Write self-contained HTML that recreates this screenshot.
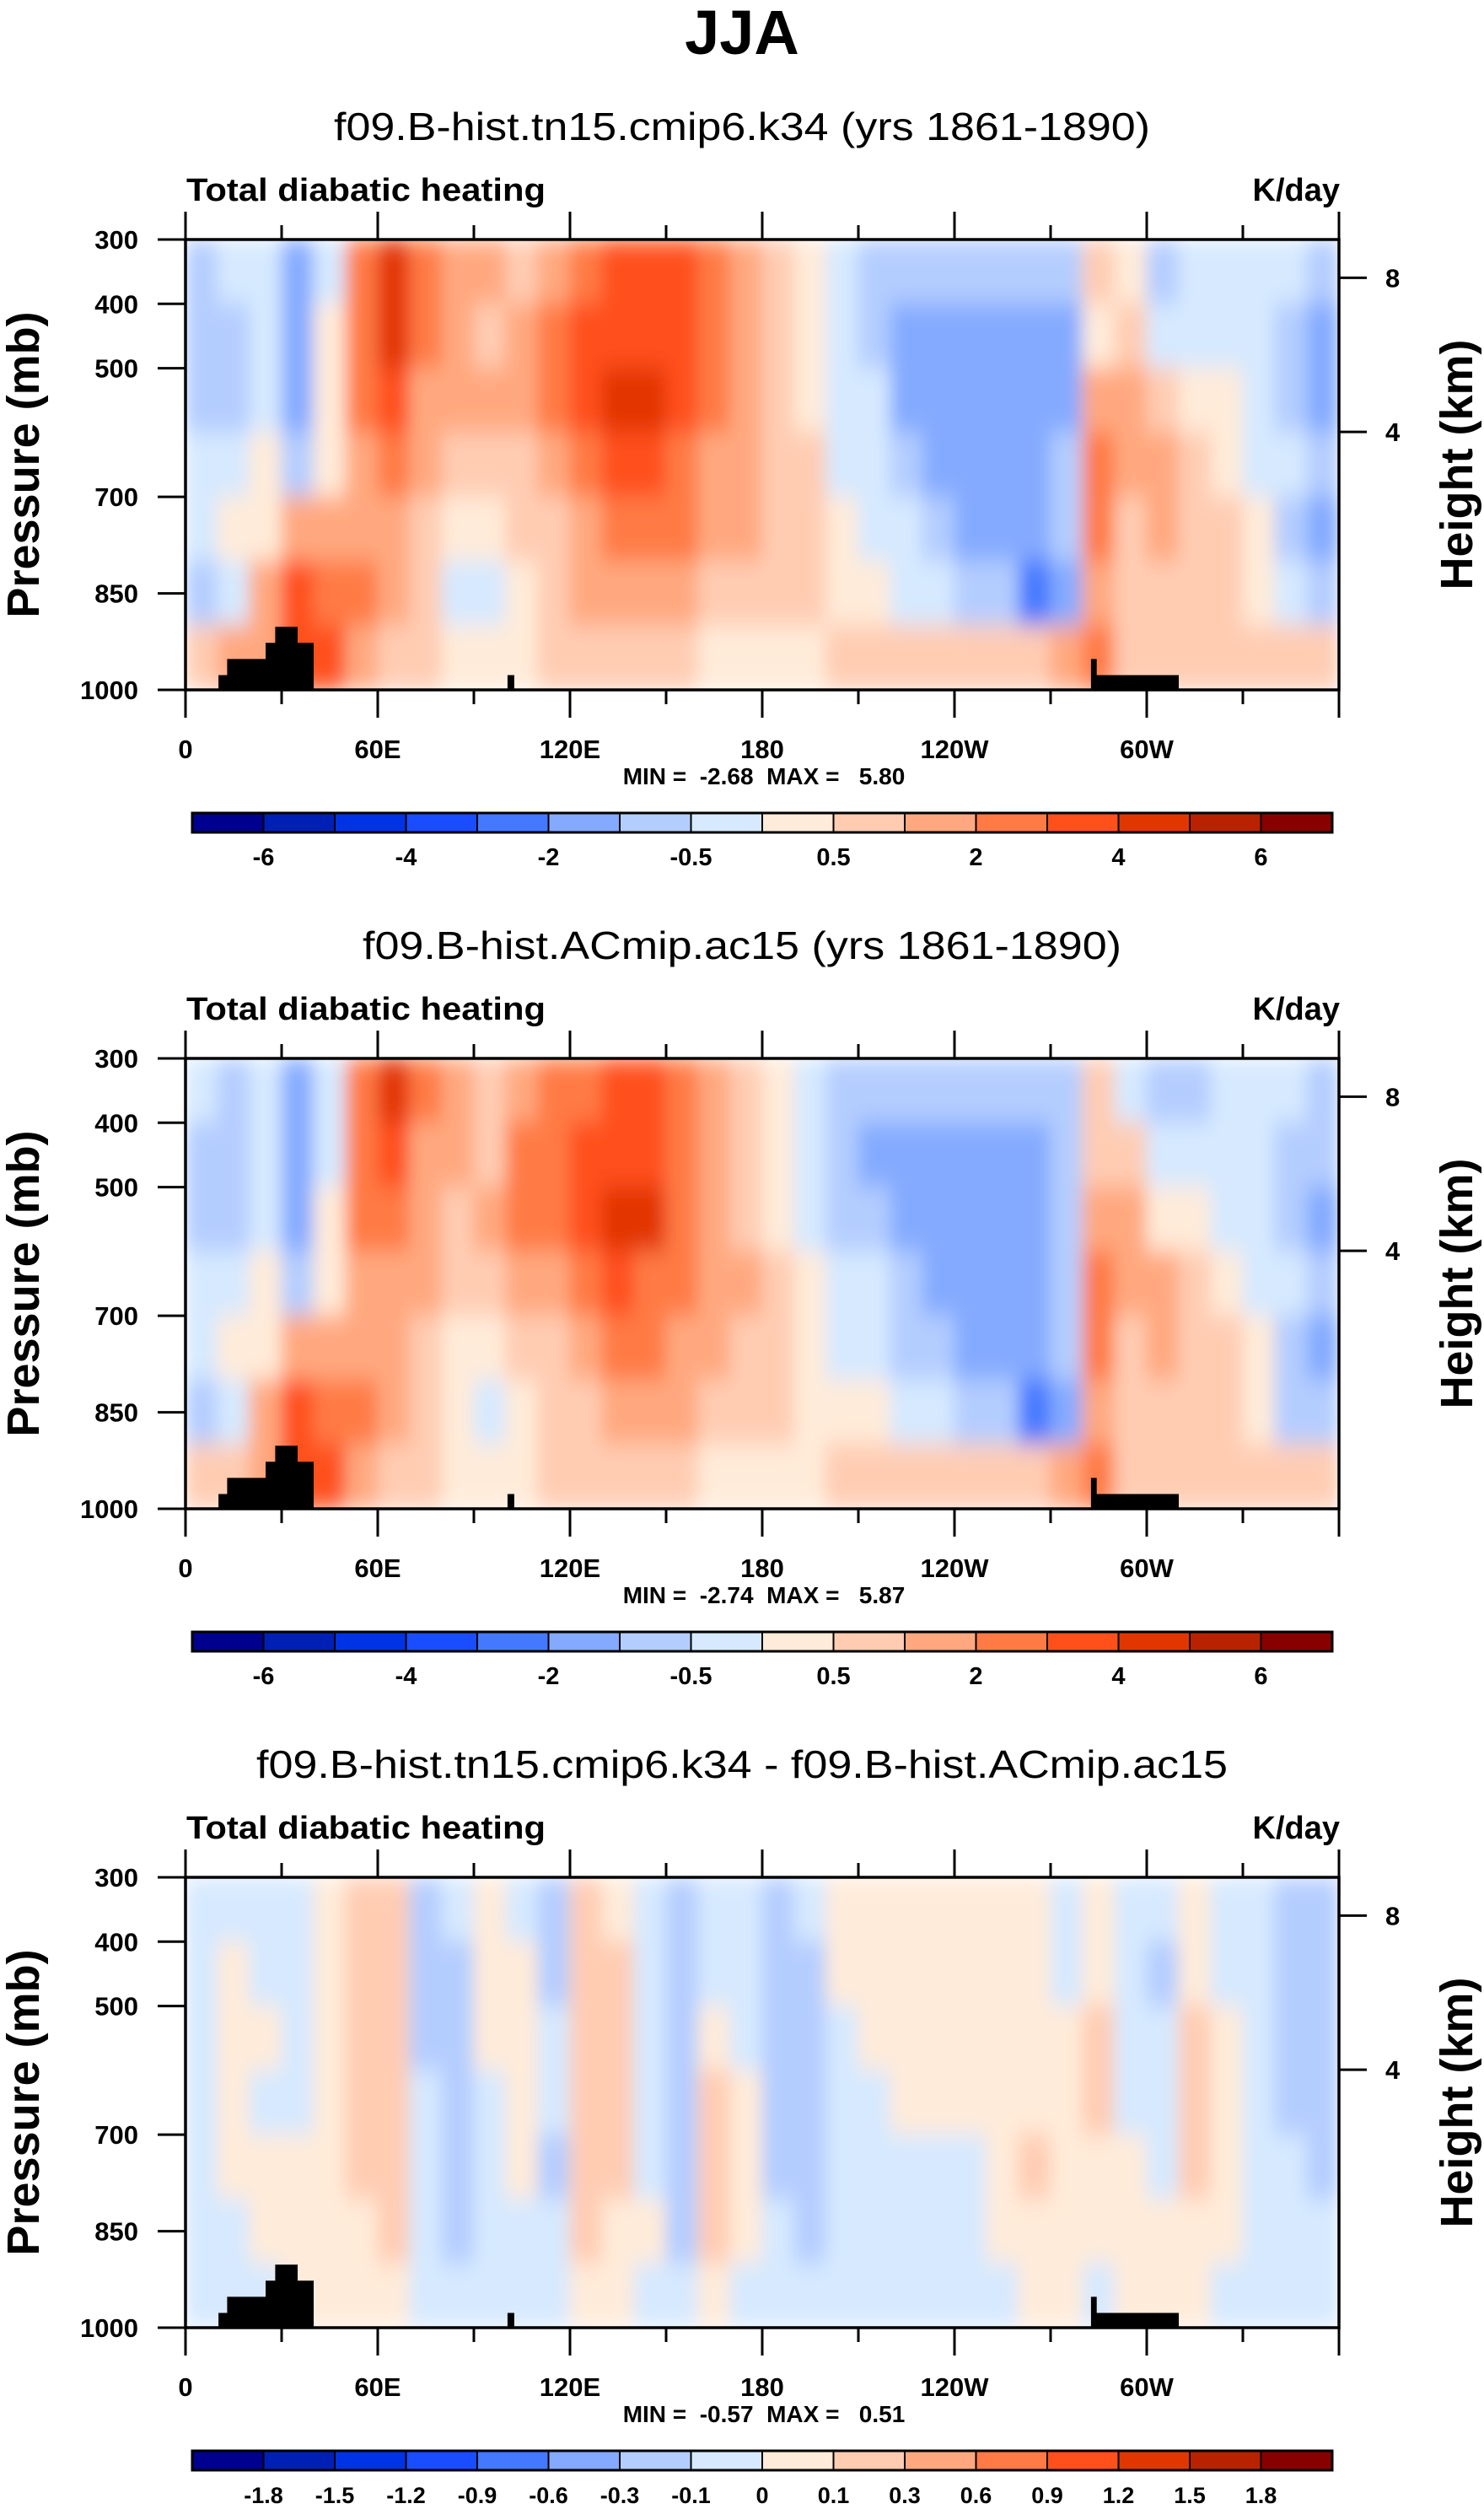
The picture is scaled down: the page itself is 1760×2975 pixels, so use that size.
<!DOCTYPE html>
<html><head><meta charset="utf-8">
<style>
html,body{margin:0;padding:0;background:#fff;}
svg{display:block;font-family:"Liberation Sans",Arial,sans-serif;}
.pre{white-space:pre;}
</style></head>
<body>
<svg id="root" width="1760" height="2975" viewBox="0 0 1760 2975" xmlns="http://www.w3.org/2000/svg">
<defs>
<filter id="blur" filterUnits="userSpaceOnUse" x="220" y="284" width="1368" height="534">
<feGaussianBlur stdDeviation="10 14" edgeMode="duplicate"/>
</filter>
<clipPath id="clip"><rect x="220" y="284" width="1368" height="534"/></clipPath>
</defs>
<text x="880" y="64" text-anchor="middle" font-size="74" font-weight="bold">JJA</text>
</svg>
<script>
// ---- data ----
const colors = ["#00008e","#0020b5","#0033e5","#1a4dff","#4479ff","#84aaff","#b4cdff","#d6e9ff","#ffebd9","#ffccb2","#ffa87f","#ff7a45","#ff501b","#e23600","#b82200","#880000"];
const lonEdges = [0,10,20,30,40,50,60,70,80,90,100,110,120,130,140,150,160,170,180,190,200,210,220,230,240,250,260,270,280,290,300,310,320,330,340,350,360];
const presEdges = [300,400,500,600,700,800,900,1000];
const xTickLabels = ["0","60E","120E","180","120W","60W"];
const xTickLons = [0,60,120,180,240,300];
const yTickVals = [300,400,500,700,850,1000];
const htTickLabels = ["8","4"];
const htTickPres = [359.5,599];
const cbLabels1 = ["-6","-4","-2","-0.5","0.5","2","4","6"];
const cbLabelIdx1 = [1,3,5,7,9,11,13,15];
const cbLabels3 = ["-1.8","-1.5","-1.2","-0.9","-0.6","-0.3","-0.1","0","0.1","0.3","0.6","0.9","1.2","1.5","1.8"];
const cbLabelIdx3 = [1,2,3,4,5,6,7,8,9,10,11,12,13,14,15];
const titles = ["f09.B-hist.tn15.cmip6.k34 (yrs 1861-1890)","f09.B-hist.ACmip.ac15 (yrs 1861-1890)","f09.B-hist.tn15.cmip6.k34 - f09.B-hist.ACmip.ac15"];
const titleWidths = [968,900,1152];
const minmax = ["MIN =  -2.68  MAX =   5.80","MIN =  -2.74  MAX =   5.87","MIN =  -0.57  MAX =   0.51"];
// land polygons: [lon, pressure]
const land1 = [[10.3,1000],[10.3,977],[13,977],[13,952],[25,952],[25,927],[28,927],[28,902],[35,902],[35,927],[40,927],[40,1000]];
const land2 = [[100.5,1000],[100.5,977],[102.6,977],[102.6,1000]];
const land3 = [[282.6,1000],[282.6,952],[284.4,952],[284.4,977],[310,977],[310,1000]];
const field1 = [
[6,6,6,7,7,6,9],[7,6,6,7,8,7,10],[7,7,7,8,8,10,10],[5,5,5,6,10,12,12],[7,8,8,8,10,11,12],
[11,11,11,10,10,11,10],[13,13,12,11,10,10,9],[11,11,10,10,9,9,9],[10,10,10,9,8,7,8],[10,9,10,9,8,7,8],
[9,10,10,9,9,8,8],[10,11,11,10,9,9,9],[11,12,12,11,10,10,9],[12,12,13,12,11,10,9],[12,12,13,12,11,10,9],
[12,12,12,11,11,10,9],[11,11,11,10,10,9,8],[10,10,10,10,10,9,8],[9,9,9,9,9,9,8],[8,8,8,9,9,9,8],
[7,7,7,7,8,8,9],[6,6,7,7,7,8,9],[6,5,5,6,7,7,9],[6,5,5,5,6,7,9],[6,5,5,5,5,6,9],
[6,5,5,5,5,6,9],[6,5,5,5,5,4,9],[6,5,5,6,6,5,10],[9,8,10,11,11,10,11],[8,9,10,10,9,9,9],
[6,7,9,10,10,9,9],[7,7,8,9,9,9,9],[7,7,8,8,9,9,9],[7,7,7,7,8,8,9],[7,6,6,7,6,7,9],[6,5,5,6,5,6,9]];
const field2 = [
[7,6,6,7,7,6,9],[6,6,6,7,8,7,9],[7,7,7,8,8,10,10],[5,5,5,6,10,12,12],[7,7,8,8,10,11,12],
[11,11,11,10,10,11,10],[13,12,11,10,10,10,9],[11,10,10,10,9,9,9],[10,10,9,9,8,8,8],[9,9,10,9,8,7,8],
[10,11,11,10,9,8,8],[11,11,11,10,9,9,9],[11,12,12,11,10,9,9],[12,12,13,12,11,10,9],[12,12,13,11,11,10,9],
[11,11,11,11,10,10,9],[10,10,10,10,10,9,8],[9,9,9,10,9,9,8],[8,8,8,9,9,9,8],[7,7,7,8,8,8,8],
[6,6,6,7,7,8,9],[6,5,6,7,7,8,9],[6,5,5,6,6,7,9],[6,5,5,5,6,7,9],[6,5,5,5,5,6,9],
[6,5,5,5,5,6,9],[6,5,5,5,5,4,9],[6,6,6,6,6,5,10],[9,9,10,11,11,10,11],[7,9,10,10,9,9,9],
[6,7,8,10,10,9,9],[6,7,8,9,9,9,9],[7,7,7,8,9,9,9],[7,7,7,7,8,8,9],[7,6,6,7,6,6,9],[6,6,5,6,5,6,9]];
const field3 = [
[7,7,7,7,7,7,7],[7,8,8,8,8,7,7],[7,7,8,7,8,8,7],[7,7,7,7,8,8,8],[8,8,8,8,8,8,8],
[9,9,9,9,9,8,8],[9,9,9,9,9,9,8],[6,6,6,7,7,7,7],[7,6,6,6,6,6,7],[8,8,8,7,7,7,7],
[7,8,8,8,8,7,7],[6,6,7,7,6,7,7],[9,9,9,9,9,9,8],[8,9,9,9,9,8,8],[7,7,7,7,7,8,7],
[6,6,6,6,6,6,7],[7,7,8,9,9,9,8],[7,7,7,8,8,8,7],[6,6,6,6,6,7,7],[7,6,6,6,6,6,7],
[8,8,7,7,7,7,7],[8,8,8,7,7,7,7],[8,8,8,8,7,7,7],[8,8,8,8,7,7,7],[8,8,8,8,7,7,7],
[8,8,8,8,8,8,7],[8,8,8,8,9,8,8],[7,7,8,8,8,8,8],[8,8,9,9,8,8,7],[7,7,7,7,8,8,8],
[7,6,7,7,7,8,8],[8,8,9,9,9,8,8],[7,7,8,8,8,8,7],[7,7,7,7,7,7,7],[6,6,6,6,7,7,7],[6,6,6,6,6,7,7]];
const fields = [field1, field2, field3];

// ---- drawing ----
const NS = "http://www.w3.org/2000/svg";
const root = document.getElementById('root');
const PL = 220, PR = 1588, PT = 284, PB = 818;
const PANEL_DY = 971;
function xS(lon){ return PL + lon/360*(PR-PL); }
function yS(p){ return PT + (p-300)/700*(PB-PT); }
function mk(tag, attrs, parent){ const e = document.createElementNS(NS, tag); for (const k in attrs) e.setAttribute(k, attrs[k]); parent.appendChild(e); return e; }

for (let pi = 0; pi < 3; pi++) {
  const g = mk('g', {transform: 'translate(0,' + (pi*PANEL_DY) + ')'}, root);
  
  
  let t = mk('text', {x: 880, y: 166, 'text-anchor': 'middle', 'font-size': 46, textLength: titleWidths[pi], lengthAdjust: 'spacingAndGlyphs'}, g);
  t.textContent = titles[pi];
  
  
  t = mk('text', {x: 221, y: 238, 'font-size': 38, 'font-weight': 'bold', textLength: 426, lengthAdjust: 'spacingAndGlyphs'}, g);
  t.textContent = 'Total diabatic heating';
  
  
  t = mk('text', {x: 1589, y: 238, 'text-anchor': 'end', 'font-size': 38, 'font-weight': 'bold'}, g);
  t.textContent = 'K/day';
  
  

  const fg = mk('g', {'clip-path': 'url(#clip)'}, g);
  const cg = mk('g', {filter: 'url(#blur)'}, fg);
  
  
  const F = fields[pi];
  for (let i = 0; i < F.length; i++) {
    for (let j = 0; j < F[i].length; j++) {
      const x0 = xS(lonEdges[i]), x1 = xS(lonEdges[i+1]);
      const y0 = yS(presEdges[j]), y1 = yS(presEdges[j+1]);
      const r = mk('rect', {x: x0-0.5, y: y0-0.5, width: x1-x0+1, height: y1-y0+1, fill: colors[F[i][j]]}, cg);
      
      
    }
  }
  [land1, land2, land3].forEach(function(L){
    const pts = L.map(function(q){ return xS(q[0]).toFixed(1) + ',' + yS(q[1]).toFixed(1); }).join(' ');
    const pg = mk('polygon', {points: pts, fill: '#000'}, g);
    
    
  });
  const fr = mk('rect', {x: PL, y: PT, width: PR-PL, height: PB-PT, fill: 'none', stroke: '#000', 'stroke-width': 3.5}, g);
  
  
  for (let lon = 0; lon <= 360; lon += 30) {
    const major = lon % 60 === 0;
    const x = xS(lon);
    mk('line', {x1: x, x2: x, y1: PT, y2: PT - (major ? 33 : 17), stroke: '#000', 'stroke-width': 3}, g);
    mk('line', {x1: x, x2: x, y1: PB, y2: PB + (major ? 33 : 17), stroke: '#000', 'stroke-width': 3}, g);
  }
  for (let k = 0; k < xTickLabels.length; k++) {
    t = mk('text', {x: xS(xTickLons[k]), y: 899, 'text-anchor': 'middle', 'font-size': 31, 'font-weight': 'bold'}, g);
    t.textContent = xTickLabels[k];
    
    
  }
  for (let k = 0; k < yTickVals.length; k++) {
    const y = yS(yTickVals[k]);
    mk('line', {x1: PL, x2: PL-33, y1: y, y2: y, stroke: '#000', 'stroke-width': 3}, g);
    t = mk('text', {x: 164, y: y + 11, 'text-anchor': 'end', 'font-size': 31, 'font-weight': 'bold'}, g);
    t.textContent = String(yTickVals[k]);
    
    
  }
  for (let k = 0; k < htTickLabels.length; k++) {
    const y = yS(htTickPres[k]);
    mk('line', {x1: PR, x2: PR+33, y1: y, y2: y, stroke: '#000', 'stroke-width': 3}, g);
    t = mk('text', {x: 1643, y: y + 11, 'font-size': 31, 'font-weight': 'bold'}, g);
    t.textContent = htTickLabels[k];
    
    
  }
  t = mk('text', {x: 0, y: 0, 'text-anchor': 'middle', 'font-size': 54, 'font-weight': 'bold', transform: 'translate(46,551) rotate(-90)'}, g);
  t.textContent = 'Pressure (mb)';
  
  
  t = mk('text', {x: 0, y: 0, 'text-anchor': 'middle', 'font-size': 54, 'font-weight': 'bold', transform: 'translate(1746,551) rotate(-90)'}, g);
  t.textContent = 'Height (km)';
  
  
  t = mk('text', {x: 906, y: 930, 'text-anchor': 'middle', 'font-size': 28, 'font-weight': 'bold', 'class': 'pre'}, g);
  t.textContent = minmax[pi];
  
  
  const cbg = mk('g', {}, g);
  
  
  const CBL = 228, CBR = 1580, CBT = 964, CBH = 23;
  const bw = (CBR-CBL)/16;
  for (let k = 0; k < 16; k++) {
    const r = mk('rect', {x: CBL + k*bw, y: CBT, width: bw, height: CBH, fill: colors[k], stroke: '#000', 'stroke-width': 2}, cbg);
    
    
  }
  mk('rect', {x: CBL, y: CBT, width: CBR-CBL, height: CBH, fill: 'none', stroke: '#000', 'stroke-width': 3}, cbg);
  const labs = pi < 2 ? cbLabels1 : cbLabels3;
  const idx = pi < 2 ? cbLabelIdx1 : cbLabelIdx3;
  for (let k = 0; k < labs.length; k++) {
    t = mk('text', {x: CBL + idx[k]*bw, y: 1026, 'text-anchor': 'middle', 'font-size': pi < 2 ? 29 : 27, 'font-weight': 'bold'}, cbg);
    t.textContent = labs[k];
    
    
  }
}
</script>
</body></html>
